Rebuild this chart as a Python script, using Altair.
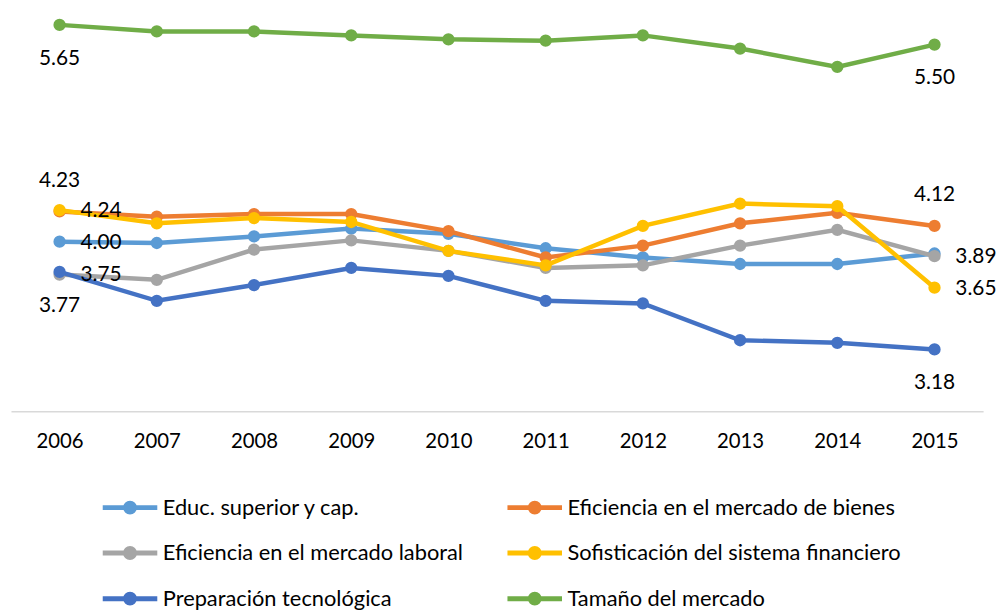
import altair as alt
import pandas as pd

years = [2006, 2007, 2008, 2009, 2010, 2011, 2012, 2013, 2014, 2015]

series_names = [
    "Educ. superior y cap.",
    "Eficiencia en el mercado de bienes",
    "Eficiencia en el mercado laboral",
    "Sofisticación del sistema financiero",
    "Preparación tecnológica",
    "Tamaño del mercado",
]
series_colors = ["#5B9BD5", "#ED7D31", "#A5A5A5", "#FFC000", "#4472C4", "#70AD47"]

educ = [4.00, 3.99, 4.04, 4.10, 4.06, 3.95, 3.88, 3.83, 3.83, 3.91]
bienes = [4.23, 4.19, 4.21, 4.21, 4.08, 3.88, 3.97, 4.14, 4.22, 4.12]
laboral = [3.75, 3.71, 3.94, 4.01, 3.93, 3.80, 3.82, 3.97, 4.09, 3.89]
sofist = [4.24, 4.14, 4.18, 4.15, 3.93, 3.82, 4.12, 4.29, 4.27, 3.65]
prep = [3.77, 3.55, 3.67, 3.80, 3.74, 3.55, 3.53, 3.25, 3.23, 3.18]
tamano = [5.65, 5.60, 5.60, 5.57, 5.54, 5.53, 5.57, 5.47, 5.33, 5.50]

all_values = [educ, bienes, laboral, sofist, prep, tamano]

labels_below = [(series_names[5], 2006), (series_names[4], 2006),
                (series_names[5], 2015), (series_names[4], 2015)]
labels_above = [(series_names[1], 2006), (series_names[1], 2015)]
labels_right = [(series_names[3], 2006), (series_names[0], 2006), (series_names[2], 2006),
                (series_names[2], 2015), (series_names[3], 2015)]

rows = []
for name, vals in zip(series_names, all_values):
    for y, v in zip(years, vals):
        rows.append({"series": name, "year": y, "value": v})
df = pd.DataFrame(rows)

lab_rows = []
for pos, lst in (("below", labels_below), ("above", labels_above), ("right", labels_right)):
    for name, yr in lst:
        v = all_values[series_names.index(name)][years.index(yr)]
        lab_rows.append({"series": name, "year": yr, "value": v, "pos": pos})
labdf = pd.DataFrame(lab_rows)

FONT = "Lato"

x_enc = alt.X("year:O", scale=alt.Scale(type="point", padding=0.5),
              axis=alt.Axis(title=None, labelAngle=0, ticks=False, grid=False,
                            domainColor="#D9D9D9", domainWidth=1.5,
                            labelFont=FONT, labelFontSize=20.5, labelColor="#000000",
                            labelPadding=21))
y_enc = alt.Y("value:Q", scale=alt.Scale(domain=[2.71, 5.73], nice=False, zero=False), axis=None)

legend_path = ("M-1,0H1"
               "M-0.164,0A0.164,0.164 0 1,0 0.164,0A0.164,0.164 0 1,0 -0.164,0"
               "M-0.073,0A0.073,0.073 0 1,0 0.073,0A0.073,0.073 0 1,0 -0.073,0")

legend_layer = alt.Chart(df).transform_filter("false").mark_line().encode(
    x=x_enc, y=y_enc,
    color=alt.Color("series:N",
                    scale=alt.Scale(domain=series_names, range=series_colors),
                    legend=alt.Legend(title=None, orient="none", legendX=90, legendY=467,
                                      direction="horizontal",
                                      columns=2, symbolType=legend_path, symbolSize=3025,
                                      symbolStrokeWidth=5, labelFont=FONT, labelFontSize=22,
                                      labelColor="#000000", labelLimit=600, labelOffset=3,
                                      rowPadding=1, columnPadding=34)),
)

layers = [legend_layer]
for name, col in zip(series_names, series_colors):
    base = alt.Chart(df).transform_filter(alt.datum.series == name)
    layers.append(base.mark_line(strokeWidth=4.5, color=col).encode(x=x_enc, y=y_enc))
    layers.append(base.mark_circle(size=154, opacity=1, color=col).encode(x=x_enc, y=y_enc))

lab = alt.Chart(labdf)
text_style = dict(font=FONT, fontSize=21, color="#000000", baseline="middle")
layers.append(lab.transform_filter(alt.datum.pos == "below").mark_text(dy=34, align="center", **text_style)
              .encode(x=x_enc, y=y_enc, text=alt.Text("value:Q", format=".2f")))
layers.append(lab.transform_filter(alt.datum.pos == "above").mark_text(dy=-31, align="center", **text_style)
              .encode(x=x_enc, y=y_enc, text=alt.Text("value:Q", format=".2f")))
layers.append(lab.transform_filter(alt.datum.pos == "right").mark_text(dx=21, dy=1, align="left", **text_style)
              .encode(x=x_enc, y=y_enc, text=alt.Text("value:Q", format=".2f")))

chart = alt.layer(*layers).properties(
    width=980, height=400,
    background="white",
    autosize=alt.AutoSizeParams(type="none"),
    padding={"left": 3, "top": 4, "right": 14, "bottom": 198},
).configure_view(strokeWidth=0, stroke="transparent")

chart.save("out.html", embed_options={"renderer": "svg", "actions": False})
